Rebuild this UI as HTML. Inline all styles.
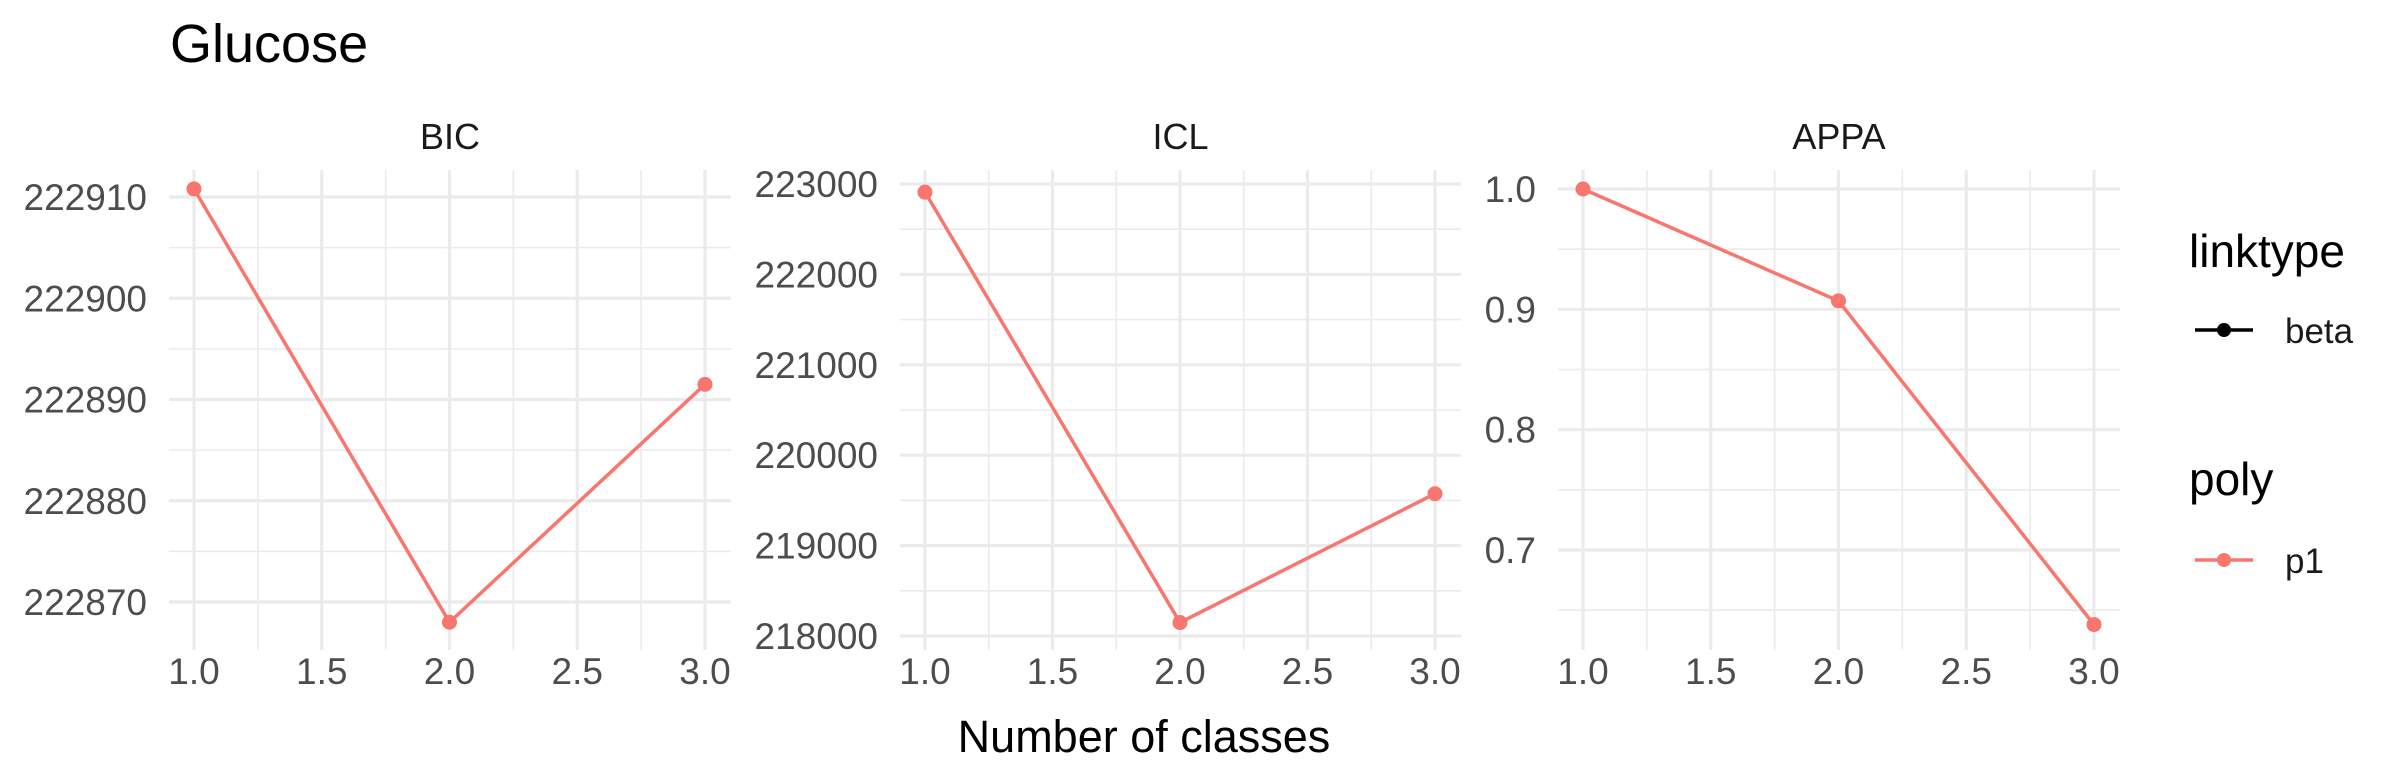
<!DOCTYPE html>
<html><head><meta charset="utf-8"><style>
html,body{margin:0;padding:0;background:#fff;}
svg{display:block;font-family:"Liberation Sans",Arial,sans-serif;}
</style></head><body>
<svg id="chart" width="2400" height="780" viewBox="0 0 2400 780" xmlns="http://www.w3.org/2000/svg">
<rect width="2400" height="780" fill="#fff"/>
<text x="170" y="62" font-size="54" fill="#000">Glucose</text>
<text x="1144" y="752" font-size="45" fill="#000" text-anchor="middle">Number of classes</text>
<g>
<text x="2189" y="267" font-size="46" fill="#000">linktype</text>
<g>
<line x1="2195" y1="330" x2="2253" y2="330" stroke="#000" stroke-width="3.5"/>
<circle cx="2224" cy="330" r="7" fill="#000"/>
<text x="2285" y="343" font-size="35" fill="#1a1a1a">beta</text>
</g>
<text x="2189" y="495" font-size="46" fill="#000">poly</text>
<g>
<line x1="2195" y1="560" x2="2253" y2="560" stroke="#F8766D" stroke-width="3.5"/>
<circle cx="2224" cy="560" r="7" fill="#F8766D"/>
<text x="2285" y="573" font-size="35" fill="#1a1a1a">p1</text>
</g>
</g>
<g id="panels"></g>
</svg>
<script>
const xs = [1, 2, 3];
const xTicks = [1.0, 1.5, 2.0, 2.5, 3.0];
const xTickLabels = ["1.0", "1.5", "2.0", "2.5", "3.0"];
const bicValues = [222910.8, 222868.0, 222891.5];
const bicTicks = [222870, 222880, 222890, 222900, 222910];
const bicTickLabels = ["222870", "222880", "222890", "222900", "222910"];
const iclValues = [222910, 218149, 219574];
const iclTicks = [218000, 219000, 220000, 221000, 222000, 223000];
const iclTickLabels = ["218000", "219000", "220000", "221000", "222000", "223000"];
const appaValues = [1.0, 0.907, 0.638];
const appaTicks = [0.7, 0.8, 0.9, 1.0];
const appaTickLabels = ["0.7", "0.8", "0.9", "1.0"];

const NS = "http://www.w3.org/2000/svg";
const panelRoot = document.getElementById("panels");
function mk(tag, attrs, parent) {
  const e = document.createElementNS(NS, tag);
  for (const k in attrs) e.setAttribute(k, attrs[k]);
  parent.appendChild(e);
  return e;
}
const panelTop = 170, panelBottom = 650;
function panel(name, title, left, right, values, ticks, labels, yA, yB, vA, vB) {
  const g = mk("g", {}, panelRoot);
  
  
  const x0 = left + 25, x1 = right - 26;
  const xs_ = v => x0 + (v - 1) / 2 * (x1 - x0);
  const ys_ = v => yA + (v - vA) / (vB - vA) * (yB - yA);
  const step = ticks[1] - ticks[0];
  for (let t = ticks[0] - step / 2; t <= ticks[ticks.length - 1] + step / 2 + 1e-9; t += step) {
    const y = ys_(t);
    if (y < panelTop || y > panelBottom) continue;
    const l = mk("line", {x1: left, x2: right, y1: y, y2: y, stroke: "#ebebeb", "stroke-width": 1.6}, g);
    
    
  }
  for (let i = 0; i < xTicks.length - 1; i++) {
    const x = xs_((xTicks[i] + xTicks[i + 1]) / 2);
    const l = mk("line", {x1: x, x2: x, y1: panelTop, y2: panelBottom, stroke: "#ebebeb", "stroke-width": 1.6}, g);
    
    
  }
  ticks.forEach((t, i) => {
    const y = ys_(t);
    const l = mk("line", {x1: left, x2: right, y1: y, y2: y, stroke: "#ebebeb", "stroke-width": 3.2}, g);
    
    
    const tx = mk("text", {x: left - 22, y: y + 13, "font-size": 37, fill: "#4d4d4d", "text-anchor": "end"}, g);
    tx.textContent = labels[i];
    
    
  });
  xTicks.forEach((t, i) => {
    const x = xs_(t);
    const l = mk("line", {x1: x, x2: x, y1: panelTop, y2: panelBottom, stroke: "#ebebeb", "stroke-width": 3.2}, g);
    
    
    const tx = mk("text", {x: x, y: 684, "font-size": 37, fill: "#4d4d4d", "text-anchor": "middle"}, g);
    tx.textContent = xTickLabels[i];
    
    
  });
  const st = mk("text", {x: (left + right) / 2, y: 149, "font-size": 36, fill: "#1a1a1a", "text-anchor": "middle"}, g);
  st.textContent = title;
  
  
  const pts = values.map((v, i) => xs_(xs[i]) + "," + ys_(v)).join(" ");
  const pl = mk("polyline", {points: pts, fill: "none", stroke: "#F8766D", "stroke-width": 3.5}, g);
  
  
  values.forEach((v, i) => {
    const c = mk("circle", {cx: xs_(xs[i]), cy: ys_(v), r: 7.5, fill: "#F8766D"}, g);
    
    
  });
}
panel("bic", "BIC", 169, 731, bicValues, bicTicks, bicTickLabels, 602, 197, 222870, 222910);
panel("icl", "ICL", 900, 1461, iclValues, iclTicks, iclTickLabels, 636, 184, 218000, 223000);
panel("appa", "APPA", 1558, 2120, appaValues, appaTicks, appaTickLabels, 550, 189, 0.7, 1.0);
</script>
</body></html>
